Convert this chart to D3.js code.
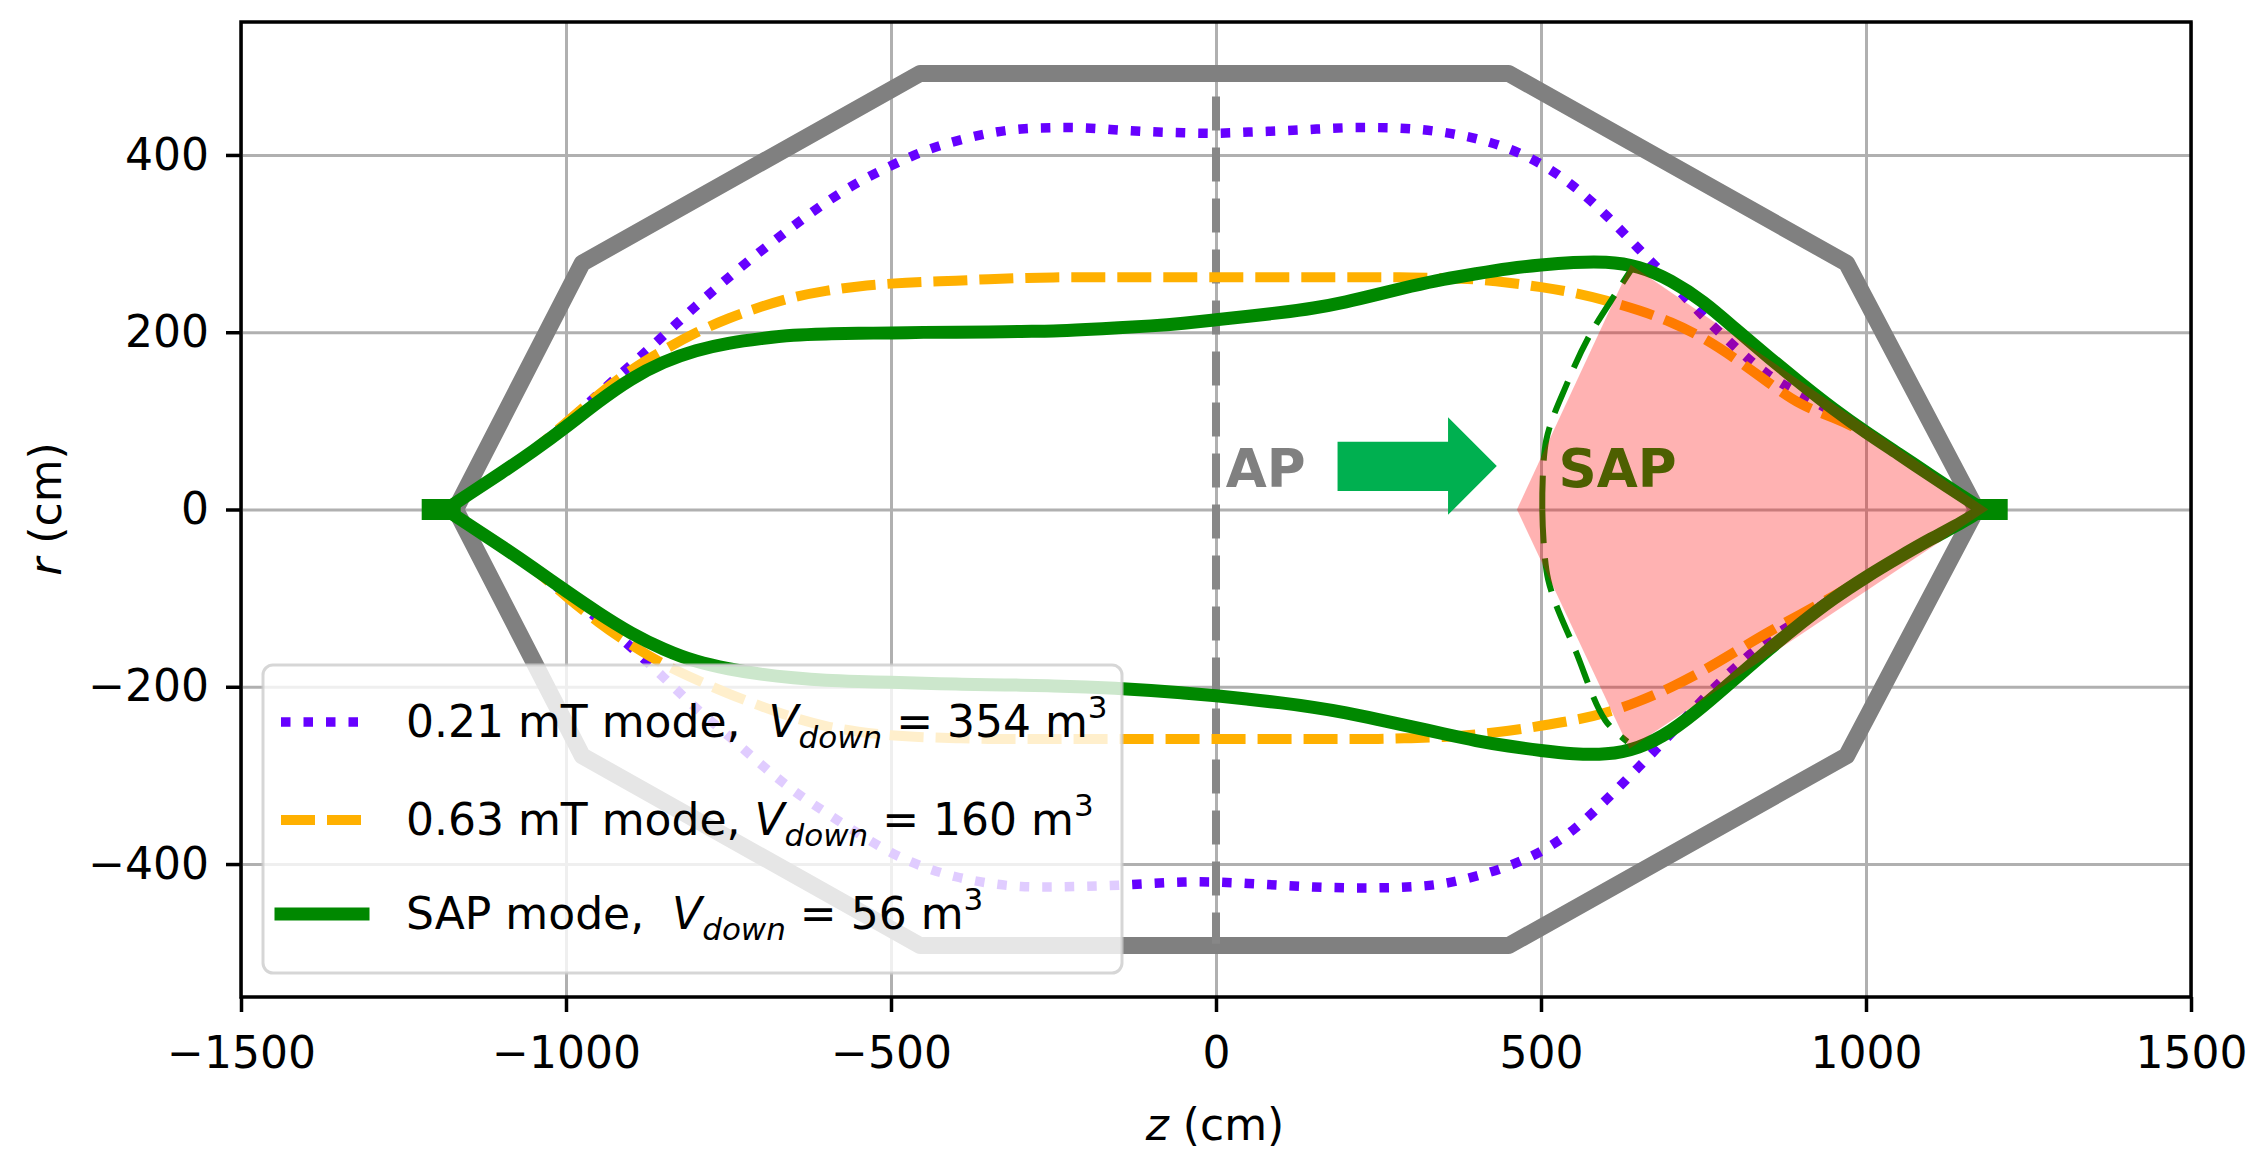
<!DOCTYPE html>
<html>
<head>
<meta charset="utf-8">
<script src="https://d3js.org/d3.v7.min.js"></script>
<style>
  body { margin: 0; background: #fff; }
  text { font-family: "DejaVu Sans", sans-serif; white-space: pre; }
</style>
</head>
<body>
<div id="chart"></div>
<script>

// ---- data (z in cm, r in cm) ----
var zGrid = [-1185,-1150,-1100,-1050,-1000,-950,-900,-850,-800,-750,-700,-650,-600,-550,-500,-450,-400,-350,-300,-250,-200,-150,-100,-50,0,
             50,100,150,200,250,300,350,400,450,500,550,600,650,700,750,800,850,900,950,1000,1050,1100,1150,1180];

// 0.21 mT mode
var purpleUp = [0,17,41,66,96,131,163,196,230,262,292,320,347,370,388,405,416,425,430,431,431,428,426,425,424,
                426,427,429,431,431,430,426,419,408,391,366,333,294,257,217,182,150,130,110,87,63,38,14,0];
var purpleLo = [0,-17,-41,-66,-96,-123,-155,-189,-225,-255,-288,-318,-342,-366,-388,-404,-415,-422,-426,-426,-425,-424,-422,-420,-420,
                -422,-424,-426,-427,-427,-426,-423,-414,-403,-387,-363,-328,-291,-253,-213,-177,-145,-124,-99,-76,-54,-33,-14,0];

// 0.63 mT mode
var orangeUp = [0,17,41,66,98,130,158,180,200,216,229,240,247,252,255,257,258,260,261,262,262,262,262,262,262,
                262,262,262,262,262,262,261,260,256,251,245,236,225,212,194,170,143,117,104,87,63,38,14,0];
var orangeLo = [0,-17,-41,-66,-98,-128,-153,-175,-192,-208,-222,-235,-245,-251,-255,-257,-258,-259,-259,-259,-259,-259,-259,-259,-259,
                -259,-259,-259,-259,-259,-258,-257,-254,-250,-244,-238,-230,-217,-201,-182,-160,-138,-118,-98,-76,-54,-33,-14,0];

// SAP mode
var greenUp = [0,17,41,66,93,122,148,167,180,188,193,197,198,199,199,200,200,200,201,201,203,205,207,210,214,
               218,222,227,234,243,252,260,266,272,276,279,280,275,259,235,203,172,142,113,87,63,38,14,0];
var greenLo = [0,-17,-41,-66,-92,-117,-140,-158,-172,-180,-186,-190,-193,-194,-195,-196,-197,-198,-198,-199,-200,-202,-204,-207,-210,
               -214,-218,-223,-229,-237,-245,-253,-261,-267,-272,-276,-277,-270,-251,-222,-190,-158,-128,-100,-76,-54,-33,-14,0];

// chamber outline
var chamberZ = [-1170,-975,-455,450,970,1170,970,450,-455,-975,-1170];
var chamberR = [0,278,492,492,278,0,-278,-492,-492,-278,0];

// AP plane
var apZ = [0, 0];
var apR = [466, -490];

// SAP boundary (dashed) upper and lower halves
var sapUpZ = [502,508,540,573,617,640];
var sapUpR = [0,78,142,194,246,272];
var sapLoZ = [502,511,554,599,633];
var sapLoR = [0,-79,-161,-238,-262];

// SAP region
var regionZ = [463,638,1188,636];
var regionR = [0,276,0,-270];

// arrow
var arrowZ = [187,357,357,432,357,357,187];
var arrowR = [21,21,-6,49,104,76.5,76.5];

// end markers of the SAP mode
var markZ = [[-1222,-1162],[1162,1218]];

var xTicks = [-1500,-1000,-500,0,500,1000,1500];
var yTicks = [-400,-200,0,200,400];

var legendPrefix = ["0.21 mT mode,  ", "0.63 mT mode, ", "SAP mode,  "];
var legendVolume = ["354", "160", "56"];
var legendColor = ["#6600ff", "#ffb000", "#008800"];

// ---- chart ----
var svg = d3.select("#chart")
  .append("svg")
    .attr("width", 2249)
    .attr("height", 1149)
    .style("background", "#fff");

var x = d3.scaleLinear().domain([-1500, 1500]).range([241, 2191]);
var y = d3.scaleLinear().domain([-550, 550]).range([997, 22]);

// grid
var gx = svg.append("g")
  .attr("transform", "translate(0,997)")
  .call(d3.axisBottom(x).tickValues(xTicks).tickSize(-975).tickFormat(""));
var gy = svg.append("g")
  .attr("transform", "translate(241,0)")
  .call(d3.axisLeft(y).tickValues(yTicks).tickSize(-1950).tickFormat(""));
[gx, gy].forEach(function(g) {
  g.select(".domain").remove();
  g.selectAll("line").attr("stroke", "#b0b0b0").attr("stroke-width", 3);
});

function pts(zs, rs) { return zs.map(function(z, i) { return [z, rs[i]]; }); }

var smooth = d3.line()
  .x(function(d) { return x(d[0]); })
  .y(function(d) { return y(d[1]); })
  .curve(d3.curveBasis);
var straight = d3.line()
  .x(function(d) { return x(d[0]); })
  .y(function(d) { return y(d[1]); });
var arc = d3.line()
  .x(function(d) { return x(d[0]); })
  .y(function(d) { return y(d[1]); })
  .curve(d3.curveCatmullRom);

// chamber
svg.append("path")
  .attr("d", straight(pts(chamberZ, chamberR)))
  .attr("fill", "none")
  .attr("stroke", "#808080")
  .attr("stroke-width", 17)
  .attr("stroke-linejoin", "round");

// AP dashed line
svg.append("path")
  .attr("d", straight(pts(apZ, apR)))
  .attr("fill", "none")
  .attr("stroke", "#878787")
  .attr("stroke-width", 8)
  .attr("stroke-dasharray", "34,17");

// modes
[purpleUp, purpleLo].forEach(function(rs) {
  svg.append("path")
    .attr("d", smooth(pts(zGrid, rs)))
    .attr("fill", "none")
    .attr("stroke", "#6600ff")
    .attr("stroke-width", 9.5)
    .attr("stroke-dasharray", "9.5,13");
});
[orangeUp, orangeLo].forEach(function(rs) {
  svg.append("path")
    .attr("d", smooth(pts(zGrid, rs)))
    .attr("fill", "none")
    .attr("stroke", "#ffb000")
    .attr("stroke-width", 10)
    .attr("stroke-dasharray", "34,12");
});
[greenUp, greenLo].forEach(function(rs) {
  svg.append("path")
    .attr("d", smooth(pts(zGrid, rs)))
    .attr("fill", "none")
    .attr("stroke", "#008800")
    .attr("stroke-width", 13)
    .attr("stroke-linecap", "square")
    .attr("stroke-linejoin", "round");
});

// end markers
markZ.forEach(function(zz) {
  svg.append("path")
    .attr("d", straight(pts(zz, [0, 0])))
    .attr("stroke", "#008800")
    .attr("stroke-width", 21);
});

// SAP boundary
[[sapUpZ, sapUpR], [sapLoZ, sapLoR]].forEach(function(s) {
  svg.append("path")
    .attr("d", arc(pts(s[0], s[1])))
    .attr("fill", "none")
    .attr("stroke", "#008800")
    .attr("stroke-width", 6)
    .attr("stroke-dasharray", "34,15");
});

// arrow and labels
svg.append("path")
  .attr("d", straight(pts(arrowZ, arrowR)) + "Z")
  .attr("fill", "#00b050");

svg.append("text")
  .attr("x", x(15)).attr("y", y(25))
  .attr("font-size", 53).attr("font-weight", "bold")
  .attr("fill", "#808080")
  .text("AP");

svg.append("text")
  .attr("x", x(527)).attr("y", y(25))
  .attr("font-size", 53).attr("font-weight", "bold")
  .attr("fill", "#008800")
  .text("SAP");

// SAP region
svg.append("path")
  .attr("d", straight(pts(regionZ, regionR)) + "Z")
  .attr("fill", "#ff0000")
  .attr("fill-opacity", 0.3);

// axes
var ax = svg.append("g")
  .attr("transform", "translate(0,997)")
  .call(d3.axisBottom(x).tickValues(xTicks).tickSize(15).tickPadding(25).tickFormat(d3.format("d")));
var ay = svg.append("g")
  .attr("transform", "translate(241,0)")
  .call(d3.axisLeft(y).tickValues(yTicks).tickSize(15).tickPadding(17).tickFormat(d3.format("d")));
[ax, ay].forEach(function(g) {
  g.select(".domain").remove();
  g.selectAll("line").attr("stroke", "#000").attr("stroke-width", 3.5);
  g.selectAll("text").attr("font-size", 44).attr("fill", "#000")
    .attr("font-family", "DejaVu Sans");
});

// spines
svg.append("rect")
  .attr("x", 241).attr("y", 22)
  .attr("width", 1950).attr("height", 975)
  .attr("fill", "none")
  .attr("stroke", "#000")
  .attr("stroke-width", 3.5);

// axis titles
var xl = svg.append("text")
  .attr("x", 1215).attr("y", 1140)
  .attr("text-anchor", "middle")
  .attr("font-size", 44);
xl.append("tspan").attr("font-style", "italic").text("z");
xl.append("tspan").text(" (cm)");

var yl = svg.append("text")
  .attr("transform", "translate(61,509) rotate(-90)")
  .attr("text-anchor", "middle")
  .attr("font-size", 44);
yl.append("tspan").attr("font-style", "italic").text("r");
yl.append("tspan").text(" (cm)");

// legend
var lg = svg.append("g");
lg.append("rect")
  .attr("x", 263).attr("y", 665)
  .attr("width", 859).attr("height", 308)
  .attr("rx", 10)
  .attr("fill", "#fff").attr("fill-opacity", 0.8)
  .attr("stroke", "#cccccc").attr("stroke-opacity", 0.8)
  .attr("stroke-width", 3);

var rowBase = [737, 835, 929];
var handleStyle = [
  {w: 9.5, dash: "9.5,13", cap: "butt"},
  {w: 10, dash: "34,12", cap: "butt"},
  {w: 13, dash: null, cap: "square"}
];
legendPrefix.forEach(function(p, i) {
  var yb = rowBase[i];
  lg.append("line")
    .attr("x1", 281).attr("x2", 363)
    .attr("y1", yb - 15).attr("y2", yb - 15)
    .attr("stroke", legendColor[i])
    .attr("stroke-width", handleStyle[i].w)
    .attr("stroke-dasharray", handleStyle[i].dash)
    .attr("stroke-linecap", handleStyle[i].cap);

  var t = lg.append("text")
    .attr("x", 406).attr("y", yb)
    .attr("font-size", 44)
    .attr("fill", "#000")
    .attr("xml:space", "preserve");
  t.append("tspan").text(p);
  t.append("tspan").attr("font-style", "italic").text("V");
  t.append("tspan").attr("font-style", "italic").attr("font-size", 31).attr("dy", 11).text("down");
  t.append("tspan").attr("dy", -11).text(" = " + legendVolume[i] + " m");
  t.append("tspan").attr("font-size", 31).attr("dy", -19).text("3");
});

</script>
</body>
</html>
